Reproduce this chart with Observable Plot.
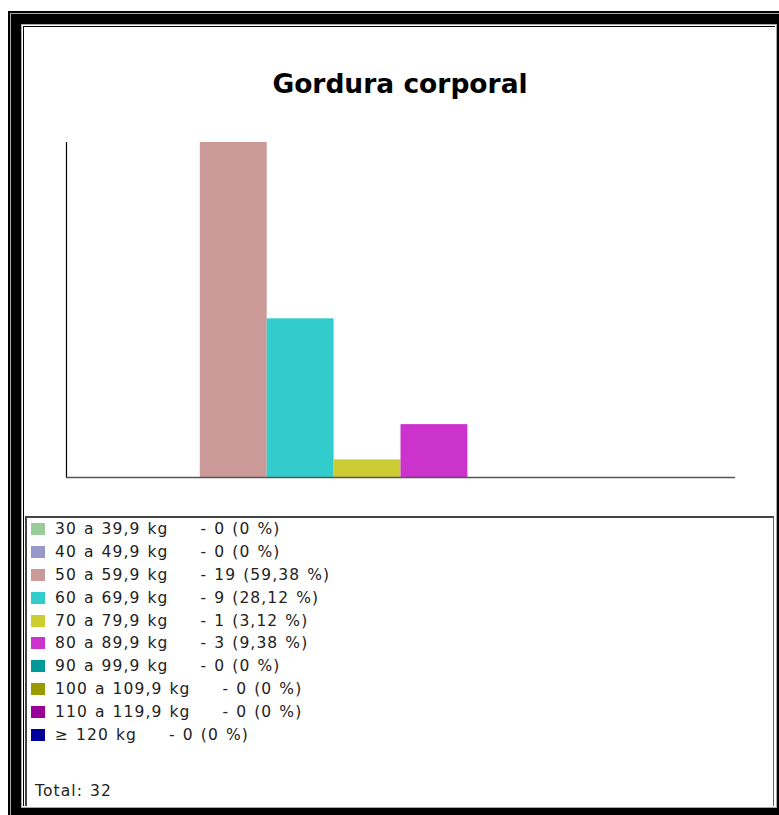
<!DOCTYPE html>
<html>
<head>
<meta charset="utf-8">
<script src="https://cdn.jsdelivr.net/npm/d3@7"></script>
<script src="https://cdn.jsdelivr.net/npm/@observablehq/plot@0.6"></script>
<style>
  html, body { margin: 0; padding: 0; background: #fff; width: 779px; height: 815px; overflow: hidden; }
  .layer { position: absolute; }
  #chart { position: absolute; left: 25px; top: 28px; width: 750px; }
  #title { font-family: "DejaVu Sans", Verdana, sans-serif; font-weight: bold; font-size: 26.5px; color: #000;
           text-align: center; height: 82px; line-height: 30px; box-sizing: border-box; padding-top: 41px; }
  #legend { position: absolute; left: 25px; top: 516px; width: 749px; height: 290px; box-sizing: border-box;
            border-top: 2px solid #444; border-left: 2px solid #444; border-right: 1px solid #666; background: #fff;
            font-family: "DejaVu Sans", Verdana, sans-serif; font-size: 15.5px; letter-spacing: 1.1px; word-spacing: 1px; color: #222; }
  .item { height: 22.9px; line-height: 22.9px; white-space: pre; position: relative; }
  .sw { position: absolute; left: 4px; top: 5px; width: 14px; height: 12px; }
  .lab { position: absolute; left: 28px; }
  .val { position: absolute; }
  #total { position: absolute; left: 8px; top: 262px; line-height: 22px; }
</style>
</head>
<body>
<div class="layer" style="left:8px;top:11px;width:900px;height:900px;background:#000"></div>
<div class="layer" style="left:10px;top:13px;width:900px;height:900px;background:#aaa"></div>
<div class="layer" style="left:11px;top:14px;width:900px;height:900px;background:#000"></div>
<div class="layer" style="left:21px;top:24px;width:756px;height:784px;background:#aaa"></div>
<div class="layer" style="left:22px;top:25px;width:754px;height:782px;background:#fff"></div>
<div class="layer" style="left:23px;top:26px;width:752px;height:780px;background:#000"></div>
<div class="layer" style="left:24px;top:27px;width:751px;height:779px;background:#fff"></div>
<div id="chart"><div id="title"></div><div id="plot"></div></div>
<div id="legend"></div>
<script>
const title = "Gordura corporal";
const categories = ["30 a 39,9 kg", "40 a 49,9 kg", "50 a 59,9 kg", "60 a 69,9 kg", "70 a 79,9 kg",
                    "80 a 89,9 kg", "90 a 99,9 kg", "100 a 109,9 kg", "110 a 119,9 kg", "≥ 120 kg"];
const counts = [0, 0, 19, 9, 1, 3, 0, 0, 0, 0];
const percents = ["0", "0", "59,38", "28,12", "3,12", "9,38", "0", "0", "0", "0"];
const colors = ["#99cc99", "#9999cc", "#cc9999", "#33cccc", "#cccc33", "#cc33cc", "#009999", "#999900", "#990099", "#000099"];
const totalLabel = "Total: 32";

document.getElementById("title").textContent = title;

const data = categories.map((c, i) => ({cat: c, n: counts[i]}));

const chart = Plot.plot({
  width: 750,
  height: 406,
  marginLeft: 41,
  marginRight: 40,
  marginTop: 32,
  marginBottom: 39,
  style: {background: "transparent"},
  x: {domain: categories, padding: 0, round: false, axis: null},
  y: {domain: [0, 19], axis: null},
  color: {domain: categories, range: colors},
  marks: [
    Plot.barY(data, {x: "cat", y: "n", fill: "cat", inset: 0}),
    Plot.frame({anchor: "left", stroke: "#000", strokeWidth: 1.2}),
    Plot.ruleY([0], {stroke: "#555", strokeWidth: 1.6})
  ]
});
document.getElementById("plot").appendChild(chart);

const legend = document.getElementById("legend");
categories.forEach((c, i) => {
  const row = document.createElement("div");
  row.className = "item";
  const sw = document.createElement("span");
  sw.className = "sw";
  sw.style.background = colors[i];
  const lab = document.createElement("span");
  lab.className = "lab";
  lab.textContent = c;
  row.appendChild(sw);
  row.appendChild(lab);
  legend.appendChild(row);
  const val = document.createElement("span");
  val.className = "val";
  val.textContent = "- " + counts[i] + " (" + percents[i] + " %)";
  row.appendChild(val);
  val.style.left = (28 + lab.getBoundingClientRect().width + 32) + "px";
});
const tot = document.createElement("div");
tot.id = "total";
tot.textContent = totalLabel;
legend.appendChild(tot);
</script>
</body>
</html>
